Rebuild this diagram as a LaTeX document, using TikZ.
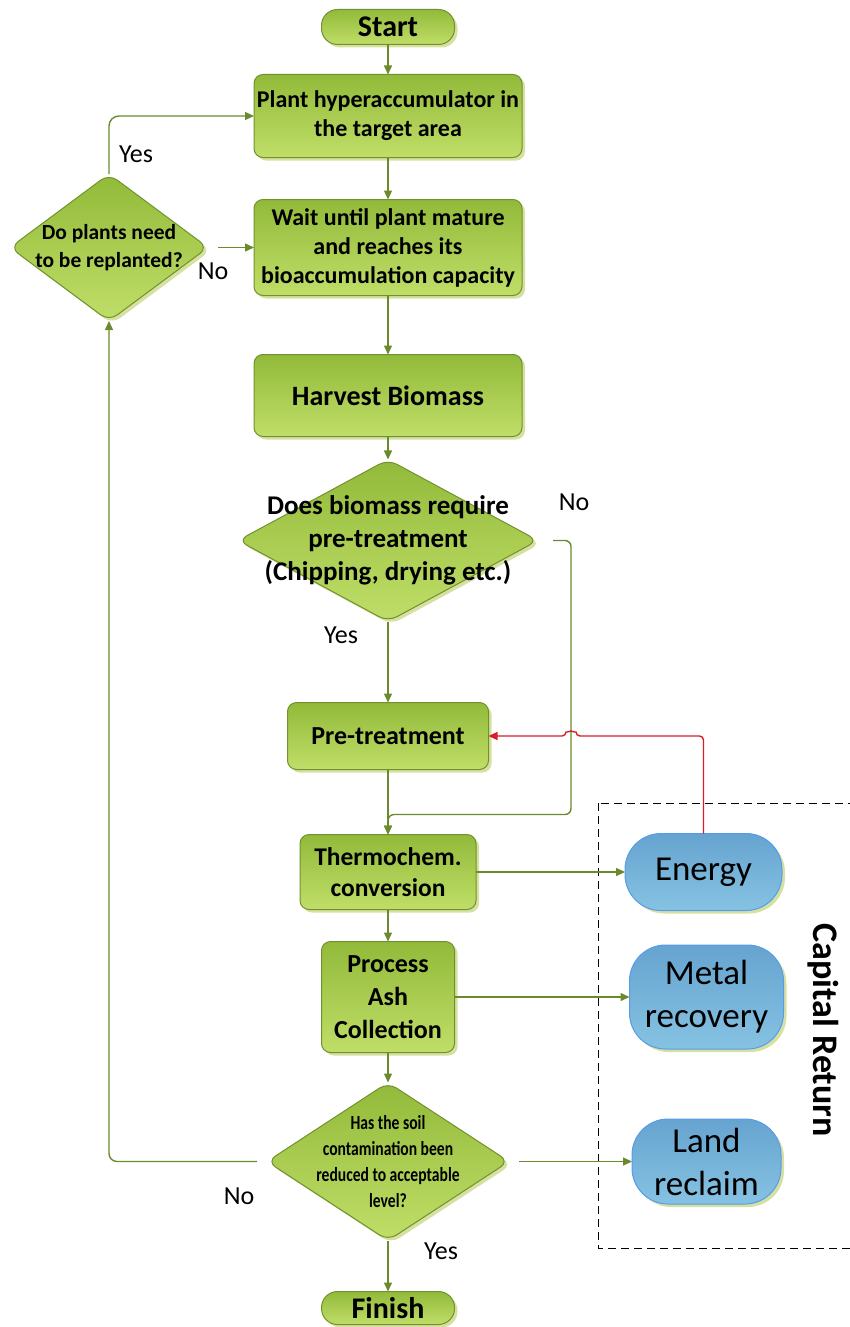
\documentclass[tikz,border=0pt]{standalone}
\usepackage{fontspec}
\setmainfont{Carlito}
\newfontfamily\condfont[FakeStretch=0.78]{Carlito}
\usetikzlibrary{positioning,arrows.meta,shapes.geometric,shadows}

\definecolor{gtop}{RGB}{146,186,58}
\definecolor{gbot}{RGB}{192,222,104}
\definecolor{gedge}{RGB}{112,146,46}
\definecolor{gline}{RGB}{106,138,44}
\definecolor{btop}{RGB}{102,164,208}
\definecolor{bbot}{RGB}{134,194,226}
\definecolor{bedge}{RGB}{86,156,236}
\definecolor{shadecol}{RGB}{214,224,160}
\definecolor{redline}{RGB}{214,30,40}

\begin{document}
\begin{tikzpicture}[
    x=1pt, y=-1pt,
    box/.style={draw=gedge, line width=1pt, rounded corners=9pt, top color=gtop, bottom color=gbot,
        align=center, inner sep=0pt, outer sep=0pt, font=\bfseries\fontsize{24}{29}\selectfont,
        drop shadow={shadow xshift=3pt, shadow yshift=-3pt, fill=shadecol, opacity=1}},
    sbox/.style={box, font=\bfseries\fontsize{26}{33}\selectfont},
    term/.style={box, rounded corners=16pt, font=\bfseries\fontsize{30}{30}\selectfont},
    dec/.style={box, diamond, rounded corners=10pt},
    ret/.style={box, draw=bedge, top color=btop, bottom color=bbot, rounded corners=36pt,
        font=\fontsize{35}{43}\selectfont},
    arr/.style={-{Triangle[length=9pt,width=8pt]}, line width=1.4pt, draw=gline},
    redarr/.style={-{Triangle[length=9pt,width=8pt]}, line width=1.4pt, draw=redline},
    lbl/.style={font=\fontsize{26}{28}\selectfont}
]
\useasboundingbox (0,0) rectangle (849,1327);

% main column
\node[term, minimum width=133pt, minimum height=35pt] (start) at (388,27) {Start};
\node[box, minimum width=268pt, minimum height=83pt, below=30pt of start] (plant) {Plant hyperaccumulator in\\the target area};
\node[box, minimum width=268pt, minimum height=96pt, below=42pt of plant] (wait) {Wait until plant mature\\and reaches its\\bioaccumulation capacity};
\node[box, minimum width=268pt, minimum height=82pt, below=59pt of wait, font=\bfseries\fontsize{28}{30}\selectfont] (harvest) {Harvest Biomass};
\node[dec, minimum width=300pt, minimum height=162pt, below=23pt of harvest,
    label={[align=center, font=\bfseries\fontsize{27}{33}\selectfont]center:Does biomass require\\pre-treatment\\(Chipping, drying etc.)}] (biomass) {};
\node[sbox, minimum width=201pt, minimum height=67pt, below=81pt of biomass] (pretreat) {Pre-treatment};
\node[sbox, minimum width=176pt, minimum height=75pt, below=65pt of pretreat, font=\bfseries\fontsize{25.5}{31}\selectfont] (thermo) {Thermochem.\\conversion};
\node[sbox, minimum width=133pt, minimum height=111pt, below=32pt of thermo] (ash) {Process\\Ash\\Collection};
\node[dec, minimum width=242pt, minimum height=158pt, below=30pt of ash,
    label={[align=center, font=\condfont\bfseries\fontsize{20}{26}\selectfont]center:Has the soil\\contamination been\\reduced to acceptable\\level?}] (soil) {};
\node[term, minimum width=133pt, minimum height=33pt, below=51pt of soil] (finish) {Finish};

% replant decision
\node[dec, minimum width=198pt, minimum height=147pt, left=46pt of wait,
    label={[align=center, font=\bfseries\fontsize{21.5}{28}\selectfont]center:Do plants need\\to be replanted?}] (replant) {};

% capital return
\node[ret, minimum width=157pt, minimum height=77pt, right=149pt of thermo] (energy) {Energy};
\node[ret, minimum width=154pt, minimum height=104pt, right=175pt of ash] (metal) {Metal\\recovery};
\node[ret, minimum width=149pt, minimum height=85pt, right=123pt of soil] (land) {Land\\reclaim};
\draw[dashed, line width=1pt, dash pattern=on 8pt off 5pt] (598,803) rectangle (880,1248);
\node[rotate=-90, font=\bfseries\fontsize{36}{38}\selectfont] (capital) at (823,1030) {Capital Return};

% flow
\draw[arr] (start) -- (plant);
\draw[arr] (plant) -- (wait);
\draw[arr] (wait) -- (harvest);
\draw[arr] (harvest) -- (biomass);
\draw[arr] (biomass) -- (pretreat);
\draw[arr] (pretreat) -- (thermo);
\draw[arr, rounded corners=6pt] ([xshift=15pt]biomass.east) -- ++(18,0) coordinate (nobend) |- ([yshift=20pt]thermo.north) -- (thermo.north);
\draw[arr] (thermo) -- (ash);
\draw[arr] (ash) -- (soil);
\draw[arr] (soil) -- (finish);
\draw[arr] (thermo.east) -- (thermo.east -| energy.west);
\draw[arr] (ash.east) -- (ash.east -| metal.west);
\draw[arr] ([xshift=10pt]soil.east) -- (soil.east -| land.west);
\draw[arr, rounded corners=8pt] ([xshift=-10pt]soil.west) -| (replant.south);
\draw[arr] ([xshift=10pt]replant.east) -- (wait.west);
\draw[arr, rounded corners=10pt] (replant.north) |- (plant.west);
\draw[redarr, rounded corners=4pt] (energy.north) |- ([xshift=5pt]nobend |- pretreat.east)
    arc[start angle=0, end angle=180, radius=5pt] -- (pretreat.east);

% labels
\node[lbl] (yesreplant) at ([xshift=27pt, yshift=20pt]replant.north) {Yes};
\node[lbl] (noreplant) at ([xshift=5pt, yshift=-24pt]replant.east) {No};
\node[lbl] (nobiomass) at ([xshift=36pt, yshift=38pt]biomass.east) {No};
\node[lbl] (yesbiomass) at ([xshift=-47pt, yshift=-14pt]biomass.south) {Yes};
\node[lbl] (nosoil) at ([xshift=-28pt, yshift=-35pt]soil.west) {No};
\node[lbl] (yessoil) at ([xshift=53pt, yshift=-11pt]soil.south) {Yes};
\end{tikzpicture}
\end{document}
